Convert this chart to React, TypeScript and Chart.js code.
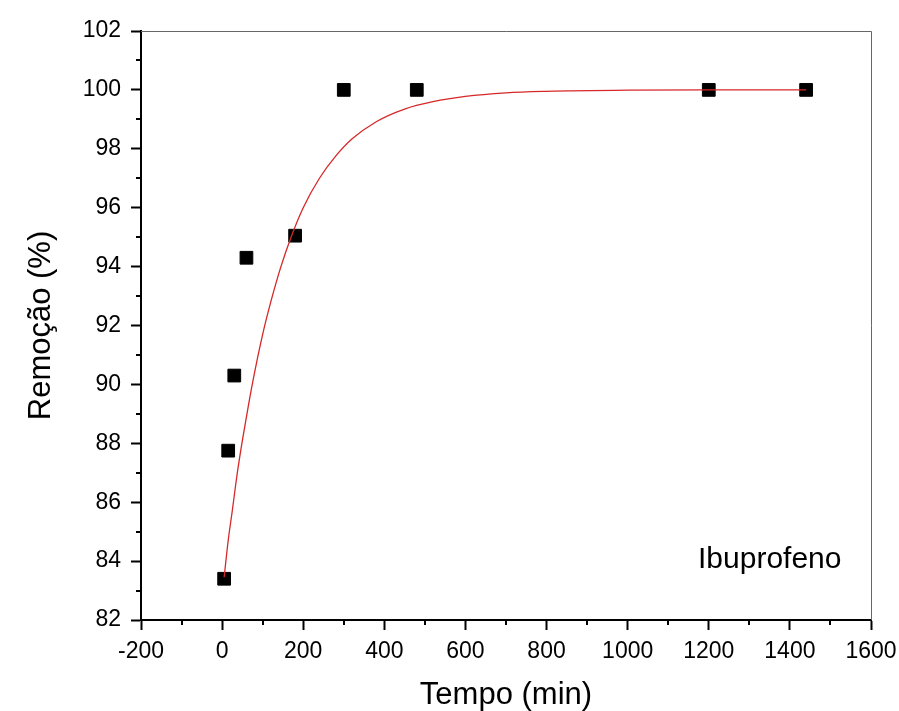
import React, { useEffect, useRef } from "react";
import { Chart, registerables } from "chart.js";

Chart.register(...registerables);

// Measured data points (Tempo in min, Remoção in %)
const pointTimes = [5, 15, 30, 60, 180, 300, 480, 1200, 1440];
const pointRemoval = [83.4, 87.75, 90.3, 94.3, 95.05, 100, 100, 100, 100];

// Fitted curve
const curveTimes = [5, 15, 25, 37, 50, 65, 80, 100, 120, 145, 170, 200, 240, 280, 320, 380, 450, 520, 600, 700, 800, 1000, 1200, 1440];
const curveRemoval = [83.45, 84.7, 85.7, 86.95, 88.1, 89.3, 90.4, 91.7, 92.8, 94.0, 95.0, 96.0, 97.0, 97.75, 98.33, 98.92, 99.35, 99.6, 99.78, 99.9, 99.95, 99.99, 100, 100];

const xTickValues = [-200, 0, 200, 400, 600, 800, 1000, 1200, 1400, 1600];
const yTickValues = [82, 84, 86, 88, 90, 92, 94, 96, 98, 100, 102];

const xTitle = "Tempo (min)";
const yTitle = "Remoção (%)";
const seriesLabel = "Ibuprofeno";

const FONT = "Arial, 'Liberation Sans', sans-serif";

const decorPlugin = {
  id: "decor",
  afterDraw(chart: any) {
    const { ctx, chartArea, scales } = chart;
    const x = scales.x;
    const y = scales.y;
    ctx.save();
    // top / right frame
    ctx.strokeStyle = "#666";
    ctx.lineWidth = 1;
    ctx.beginPath();
    ctx.moveTo(chartArea.left, chartArea.top + 0.5);
    ctx.lineTo(chartArea.right + 0.5, chartArea.top + 0.5);
    ctx.lineTo(chartArea.right + 0.5, chartArea.bottom);
    ctx.stroke();
    // minor ticks
    ctx.strokeStyle = "#000";
    ctx.lineWidth = 2;
    ctx.beginPath();
    for (let i = 0; i < xTickValues.length - 1; i++) {
      const v = (xTickValues[i] + xTickValues[i + 1]) / 2;
      const px = Math.round(x.getPixelForValue(v));
      ctx.moveTo(px, chartArea.bottom);
      ctx.lineTo(px, chartArea.bottom + 5);
    }
    for (let i = 0; i < yTickValues.length - 1; i++) {
      const v = (yTickValues[i] + yTickValues[i + 1]) / 2;
      const py = Math.round(y.getPixelForValue(v));
      ctx.moveTo(chartArea.left, py);
      ctx.lineTo(chartArea.left - 5, py);
    }
    ctx.stroke();
    // series label
    ctx.fillStyle = "#000";
    ctx.font = `30px ${FONT}`;
    ctx.textAlign = "left";
    ctx.textBaseline = "alphabetic";
    ctx.fillText(seriesLabel, chartArea.left + 557, chartArea.top + 537);
    ctx.restore();
  },
};

export default function App() {
  const canvasRef = useRef<HTMLCanvasElement | null>(null);

  useEffect(() => {
    const canvas = canvasRef.current;
    if (!canvas) return;
    const chart = new Chart(canvas, {
      type: "scatter",
      data: {
        datasets: [
          {
            label: "fit",
            data: curveTimes.map((t, i) => ({ x: t, y: curveRemoval[i] })),
            showLine: true,
            borderColor: "rgb(214, 40, 40)",
            borderWidth: 1.3,
            pointRadius: 0,
            cubicInterpolationMode: "monotone",
            fill: false,
          },
          {
            label: seriesLabel,
            data: pointTimes.map((t, i) => ({ x: t, y: pointRemoval[i] })),
            pointStyle: "rect",
            pointRadius: 9,
            backgroundColor: "#000",
            borderColor: "#000",
            borderWidth: 1,
            showLine: false,
          },
        ],
      },
      options: {
        animation: false,
        responsive: false,
        devicePixelRatio: 1,
        layout: { padding: { top: 31, right: 28, left: 0, bottom: 0 } },
        plugins: { legend: { display: false }, tooltip: { enabled: false } },
        scales: {
          x: {
            type: "linear",
            min: -200,
            max: 1600,
            afterBuildTicks: (scale: any) => {
              scale.ticks = xTickValues.map((v) => ({ value: v }));
            },
            afterFit: (scale: any) => {
              scale.height = 91;
              scale.paddingLeft = 0;
              scale.paddingRight = 0;
            },
            ticks: {
              autoSkip: false,
              maxRotation: 0,
              minRotation: 0,
              padding: 8,
              color: "#000",
              font: { family: FONT, size: 23 },
              callback: (v: any) => String(v),
            },
            grid: {
              display: true,
              drawOnChartArea: false,
              drawTicks: true,
              tickLength: 10,
              tickWidth: 2,
              tickColor: "#000",
            },
            border: { display: true, color: "#000", width: 2 },
            title: {
              display: true,
              text: xTitle,
              color: "#000",
              font: { family: FONT, size: 31, lineHeight: 1.0 },
              padding: { top: 0, bottom: 0 },
            },
          },
          y: {
            type: "linear",
            min: 82,
            max: 102,
            afterBuildTicks: (scale: any) => {
              scale.ticks = yTickValues.map((v) => ({ value: v }));
            },
            afterFit: (scale: any) => {
              scale.width = 141;
              scale.paddingTop = 0;
              scale.paddingBottom = 0;
            },
            ticks: {
              autoSkip: false,
              padding: 10,
              color: "#000",
              font: { family: FONT, size: 23 },
              callback: (v: any) => String(v),
            },
            grid: {
              display: true,
              drawOnChartArea: false,
              drawTicks: true,
              tickLength: 10,
              tickWidth: 2,
              tickColor: "#000",
            },
            border: { display: true, color: "#000", width: 2 },
            title: {
              display: true,
              text: yTitle,
              color: "#000",
              font: { family: FONT, size: 31, lineHeight: 1.0 },
              padding: { top: 26, bottom: 0 },
            },
          },
        },
      },
      plugins: [decorPlugin],
    } as any);
    return () => chart.destroy();
  }, []);

  return (
    <div style={{ position: "absolute", left: 0, top: 0, width: 899, height: 711, background: "#fff" }}>
      <canvas ref={canvasRef} width={899} height={711} style={{ width: 899, height: 711, display: "block" }} />
    </div>
  );
}
